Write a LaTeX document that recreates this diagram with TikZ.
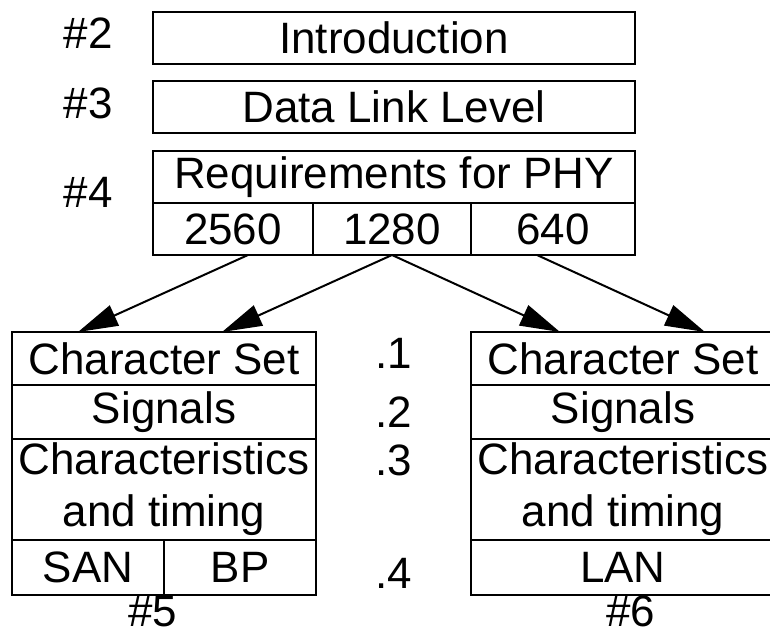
\documentclass[tikz,border=0pt]{standalone}
\usepackage{fontspec}
\setmainfont{Liberation Sans}
\usetikzlibrary{positioning,calc,arrows.meta}

\tikzset{
	box/.style={draw, line width=0.04cm, inner sep=0pt, outer sep=0pt, minimum height=1.04cm, align=center},
	lbl/.style={inner sep=0pt},
	arr/.style={line width=0.04cm, -{Triangle[length=0.8cm,width=0.44cm]}}
}

\begin{document}
\begin{tikzpicture}[font=\fontsize{25}{29.6}\selectfont]
			\useasboundingbox (0,0) rectangle (15.4,-12.66);
			
			% Define nodes
			\node[box, minimum width=9.64cm, anchor=north west] (intro) at (3.06,-0.24) {Introduction};
			\node[box, minimum width=9.64cm, below=0.34cm of intro] (dll) {Data Link Level};
			\node[box, minimum width=9.64cm, below=0.36cm of dll] (req) {Requirements for PHY};
			\node[box, minimum width=3.2cm, below=0cm of req.south west, anchor=north west] (c2560) {2560};
			\node[box, minimum width=3.16cm, right=0cm of c2560] (c1280) {1280};
			\node[box, minimum width=3.28cm, right=0cm of c1280] (c640) {640};
			
			\node[lbl, left=0.8cm of intro, yshift=0.1cm] (n2) {\#2};
			\node[lbl, left=0.8cm of dll, yshift=0.08cm] (n3) {\#3};
			\node[lbl, left=0.8cm of req.south west, yshift=0.22cm] (n4) {\#4};
			
			\node[box, minimum width=6.08cm, minimum height=1.06cm, anchor=north west] (cs5) at (0.24,-6.64) {Character Set};
			\node[box, minimum width=6.08cm, minimum height=1.08cm, below=0cm of cs5] (sig5) {Signals};
			\node[box, minimum width=6.08cm, minimum height=2.02cm, below=0cm of sig5] (ch5) {Characteristics\\and timing};
			\node[box, minimum width=3.04cm, minimum height=1.1cm, below=0cm of ch5.south west, anchor=north west] (san5) {SAN};
			\node[box, minimum width=3.04cm, minimum height=1.1cm, right=0cm of san5] (bp5) {BP};
			
			\node[box, minimum width=6.08cm, minimum height=1.06cm, right=3.1cm of cs5] (cs6) {Character Set};
			\node[box, minimum width=6.08cm, minimum height=1.08cm, below=0cm of cs6] (sig6) {Signals};
			\node[box, minimum width=6.08cm, minimum height=2.02cm, below=0cm of sig6] (ch6) {Characteristics\\and timing};
			\node[box, minimum width=6.08cm, minimum height=1.1cm, below=0cm of ch6] (lan6) {LAN};
			
			\node[lbl] (d1) at ($(cs5.east)!0.5!(cs6.west)+(0,0.1)$) {.1};
			\node[lbl] (d2) at ($(sig5.east)!0.5!(sig6.west)$) {.2};
			\node[lbl] (d3) at ($(ch5.east)!0.5!(ch6.west)+(0,0.59)$) {.3};
			\node[lbl] (d4) at ($(bp5.east)!0.5!(lan6.west)+(0,-0.11)$) {.4};
			
			\node[lbl] (n5) at ($(san5.south east)+(-0.22,-0.33)$) {\#5};
			\node[lbl] (n6) at ($(lan6.south)+(0.16,-0.33)$) {\#6};
			
			% Connect the nodes
			\draw[arr] ([xshift=0.3cm]c2560.south) -- ($(cs5.north west)+(1.32,0)$);
			\draw[arr] (c1280.south) -- ($(cs5.north west)+(4.2,0)$);
			\draw[arr] (c1280.south) -- ($(cs6.north west)+(1.78,0)$);
			\draw[arr] ([xshift=-0.32cm]c640.south) -- ($(cs6.north west)+(4.68,0)$);
			
\end{tikzpicture}
\end{document}
